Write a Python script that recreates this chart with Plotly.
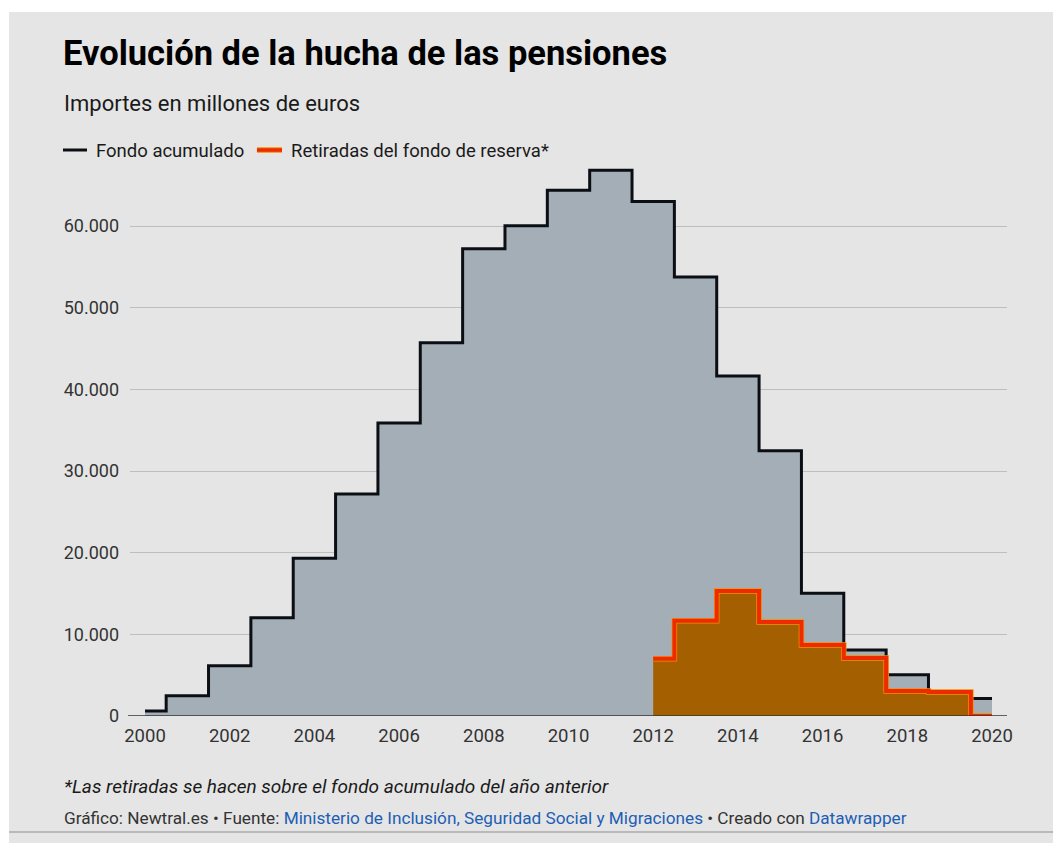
import plotly.graph_objects as go

# ---- data ----
years = list(range(2000, 2021))
fondo_acumulado = [601, 2488, 6168, 12025, 19330, 27189, 35879, 45716, 57223, 60022,
                   64375, 66815, 63008, 53744, 41634, 32481, 15020, 8095, 5043, 2153, 2138]
years_retiradas = list(range(2012, 2021))
retiradas = [7003, 11648, 15300, 11500, 8700, 7100, 3050, 2950, 0]
x_ticks = list(range(2000, 2021, 2))
y_ticks = [0, 10000, 20000, 30000, 40000, 50000, 60000]

W, H = 1053, 843
PL, PR, PT, PB = 130, 1007, 165, 716      # plot area in window pixels
PW, PH = PR - PL, PB - PT


def px(x):
    return (x - PL) / PW


def py(y):
    return (PB - y) / PH


fig = go.Figure()

fig.add_trace(go.Scatter(
    x=years, y=fondo_acumulado, mode="lines", line_shape="hvh",
    line=dict(color="#0b0f14", width=3), fill="tozeroy", fillcolor="#a4aeb7",
    name="Fondo acumulado", showlegend=False, hoverinfo="x+y"))

fig.add_trace(go.Scatter(
    x=years_retiradas, y=retiradas, mode="lines", line_shape="hvh",
    line=dict(color="#f39200", width=5.5), fill="tozeroy", fillcolor="#a35f00",
    name="Retiradas del fondo de reserva*", showlegend=False, hoverinfo="skip"))
fig.add_trace(go.Scatter(
    x=years_retiradas, y=retiradas, mode="lines", line_shape="hvh",
    line=dict(color="#ee2a00", width=4),
    name="Retiradas del fondo de reserva*", showlegend=False, hoverinfo="x+y"))

shapes = [
    # panel background
    dict(type="rect", xref="paper", yref="paper", x0=px(9), x1=px(1060), y0=py(850), y1=py(12),
         fillcolor="#e5e5e5", line=dict(width=0), layer="below"),
    dict(type="line", xref="paper", yref="paper", x0=px(9), x1=px(1060), y0=py(832), y1=py(832),
         line=dict(color="#aaaaaa", width=1.5), layer="below"),
    # baseline
    dict(type="line", xref="paper", yref="y", x0=px(128), x1=1.0, y0=0, y1=0,
         line=dict(color="#333333", width=1.5)),
    # legend symbols
    dict(type="line", xref="paper", yref="paper", x0=px(63), x1=px(87), y0=py(150), y1=py(150),
         line=dict(color="#0b0f14", width=3)),
    dict(type="line", xref="paper", yref="paper", x0=px(257), x1=px(282), y0=py(150), y1=py(150),
         line=dict(color="#f39200", width=5.5)),
    dict(type="line", xref="paper", yref="paper", x0=px(257), x1=px(282), y0=py(150), y1=py(150),
         line=dict(color="#ee2a00", width=3.5)),
]

F = "Roboto, Arial, sans-serif"
annotations = [
    dict(text="<b>Evolución de la hucha de las pensiones</b>", x=px(61), y=py(53),
         font=dict(family=F, size=34.5, color="#000000")),
    dict(text="Importes en millones de euros", x=px(62), y=py(103),
         font=dict(family=F, size=22, color="#1a1a1a")),
    dict(text="Fondo acumulado", x=px(94), y=py(151),
         font=dict(family=F, size=18.5, color="#1a1a1a")),
    dict(text="Retiradas del fondo de reserva*", x=px(289), y=py(151),
         font=dict(family=F, size=18.5, color="#1a1a1a")),
    dict(text="<i>*Las retiradas se hacen sobre el fondo acumulado del año anterior</i>",
         x=px(62), y=py(787), font=dict(family=F, size=19, color="#1a1a1a")),
    dict(text="Gráfico: Newtral.es • Fuente: <span style='color:#1d5eb5'>Ministerio de Inclusión, "
              "Seguridad Social y Migraciones</span> • Creado con "
              "<span style='color:#1d5eb5'>Datawrapper</span>",
         x=px(62), y=py(818), font=dict(family=F, size=17.2, color="#333333")),
]
for a in annotations:
    a.update(xref="paper", yref="paper", xanchor="left", yanchor="middle", showarrow=False)

ymax = PH / 8.1667 * 1000
fig.update_layout(
    width=W, height=H,
    margin=dict(l=PL, r=W - PR, t=PT, b=H - PB, autoexpand=False),
    paper_bgcolor="#ffffff", plot_bgcolor="rgba(0,0,0,0)",
    separators=",.",
    shapes=shapes, annotations=annotations, showlegend=False,
    xaxis=dict(range=[2000 - 15 / 42.35, 2020 + 15 / 42.35], tickvals=x_ticks,
               showgrid=False, zeroline=False, showline=False, ticks="",
               ticklabelstandoff=6,
               tickfont=dict(family=F, size=18.5, color="#333333"), fixedrange=True),
    yaxis=dict(range=[0, ymax], tickvals=y_ticks, tickformat=",d", showgrid=True,
               gridcolor="rgba(0,0,0,0.17)", gridwidth=1, zeroline=False, showline=False,
               ticks="", ticklabelstandoff=10, layer="above traces",
               tickfont=dict(family=F, size=18, color="#333333"), fixedrange=True),
)

fig.write_html(
    "out.html",
    config={"displayModeBar": False},
    post_script="document.body.style.margin='0';document.body.style.overflow='hidden';",
)
